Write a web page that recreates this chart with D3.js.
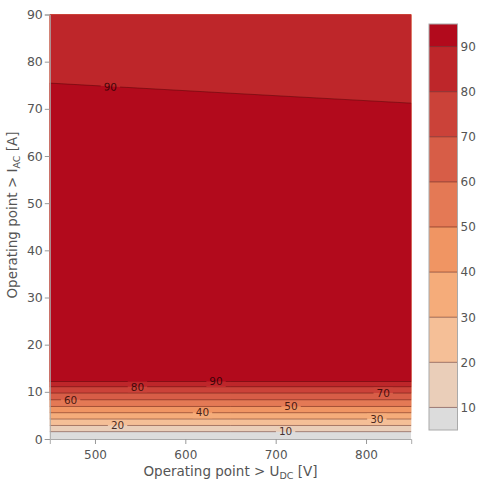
<!DOCTYPE html>
<html><head><meta charset="utf-8">
<script src="https://cdn.jsdelivr.net/npm/d3@7"></script>
<style>body{margin:0;background:#fff;} svg{display:block;font-family:"DejaVu Sans",Verdana,sans-serif;}</style>
</head><body><svg id="chart" width="488" height="483"></svg>
<script>
// ---- data ----
const U_DC = [450, 650, 850];
const I_AC = [0, 1, 2, 3, 4, 5, 6, 7, 8, 9, 10, 11, 12, 12.5, 15, 30, 45, 60, 90];
const efficiency = [
  [0, 0, 0],
  [5.8, 5.8, 5.8],
  [13.4, 13.4, 13.4],
  [21.0, 21.0, 21.0],
  [28.3, 28.3, 28.3],
  [35.7, 35.7, 35.7],
  [43.2, 43.2, 43.2],
  [50.8, 50.8, 50.8],
  [57.8, 57.8, 57.8],
  [64.8, 64.8, 64.8],
  [71.9, 71.9, 71.9],
  [79.3, 79.3, 79.3],
  [88.3, 88.3, 88.3],
  [92.8, 92.8, 92.8],
  [93.4, 93.4, 93.4],
  [93.2, 93.2, 93.2],
  [92.6, 92.6, 92.6],
  [91.7, 91.7, 91.7],
  [88.4, 87.87, 87.15]
];
const levels = [10, 20, 30, 40, 50, 60, 70, 80, 90];
const xTicks = [500, 600, 700, 800];
const yTicks = [0, 10, 20, 30, 40, 50, 60, 70, 80, 90];
const cbTicks = [10, 20, 30, 40, 50, 60, 70, 80, 90];
// label placement: [level, U, approx I]
const contourLabels = [[90,517,75],[90,634,12],[80,547,11],[70,819,10],[60,473,8],[50,717,7],[40,619,5.5],[30,812,4],[20,525,3],[10,711,1.5]];

// ---- colours (plotly "Reds") ----
const stops = [[0,'rgb(220,220,220)'],[0.2,'rgb(245,195,157)'],[0.4,'rgb(245,160,105)'],[1,'rgb(178,10,28)']];
const cscale = d3.scaleLinear().domain(stops.map(d=>d[0])).range(stops.map(d=>d[1])).interpolate(d3.interpolateRgb);
const bandColor = i => cscale(i / levels.length);

const svg = d3.select('#chart');
const m = {l:49.8, r:411.2, t:14.5, b:439};
const x = d3.scaleLinear().domain([450, 850]).range([m.l, m.r]);
const y = d3.scaleLinear().domain([0, 90]).range([m.b, m.t]);

const nx = U_DC.length, ny = I_AC.length;
const values = [];
for (let j = 0; j < ny; j++) for (let i = 0; i < nx; i++) values.push(efficiency[j][i]);
const contours = d3.contours().size([nx, ny]).thresholds(levels)(values);
const idxU = d3.scaleLinear().domain(d3.range(nx)).range(U_DC);
const idxI = d3.scaleLinear().domain(d3.range(ny)).range(I_AC);
const path = d3.geoPath(d3.geoTransform({
  point(px, py) { this.stream.point(x(idxU(px - 0.5)), y(idxI(py - 0.5))); }
}));

const defs = svg.append('defs');
defs.append('clipPath').attr('id','plotclip').append('rect')
  .attr('x', m.l).attr('y', m.t).attr('width', m.r - m.l).attr('height', m.b - m.t);

const plot = svg.append('g').attr('clip-path','url(#plotclip)');
plot.append('rect').attr('x', m.l).attr('y', m.t).attr('width', m.r - m.l).attr('height', m.b - m.t)
  .attr('fill', bandColor(0));
plot.selectAll('path.band').data(contours).join('path').attr('class','band')
  .attr('d', path).attr('fill', (d, k) => bandColor(k + 1));

// contour labels
function crossingI(level, U, hint) {
  const e = efficiency.map(row => d3.scaleLinear().domain(U_DC).range(row)(U));
  let best = null;
  for (let j = 0; j < ny - 1; j++) {
    if ((e[j] - level) * (e[j+1] - level) <= 0 && e[j] !== e[j+1]) {
      const I = I_AC[j] + (level - e[j]) / (e[j+1] - e[j]) * (I_AC[j+1] - I_AC[j]);
      if (best === null || Math.abs(I - hint) < Math.abs(best - hint)) best = I;
    }
  }
  return best;
}
const labG = svg.append('g');
const mask = defs.append('mask').attr('id','lblmask').attr('maskUnits','userSpaceOnUse')
  .attr('x',0).attr('y',0).attr('width',488).attr('height',483);
mask.append('rect').attr('x',0).attr('y',0).attr('width',488).attr('height',483).attr('fill','white');
contourLabels.forEach(([lv, U, hint]) => {
  const I = crossingI(lv, U, hint);
  const px = x(U), py = y(I);
  const a = Math.atan2(y(crossingI(lv, U + 5, I)) - y(crossingI(lv, U - 5, I)), x(U + 5) - x(U - 5)) * 180 / Math.PI;
  const t = labG.append('text').attr('transform', `translate(${px},${py}) rotate(${a})`)
    .attr('text-anchor','middle').attr('dy','0.36em').attr('font-size','10.5px')
    .attr('fill','rgba(25,0,0,0.8)').text(lv);
  const w = t.node().getComputedTextLength();
  mask.append('rect').attr('transform', `translate(${px},${py}) rotate(${a})`)
    .attr('x', -w/2 - 3).attr('y', -5.5).attr('width', w + 6).attr('height', 11).attr('fill','black');
});
const lines = svg.insert('g', () => labG.node()).attr('clip-path','url(#plotclip)')
  .append('g').attr('mask','url(#lblmask)');
lines.selectAll('path').data(contours).join('path').attr('d', path)
  .attr('fill','none').attr('stroke','rgba(60,0,0,0.4)').attr('stroke-width',1);

// axes
const axisColor = '#555';
const xa = svg.append('g').attr('transform', `translate(0,${m.b})`)
  .call(d3.axisBottom(x).tickValues(xTicks).tickSize(5).tickPadding(6).tickFormat(d3.format('d')));
const ya = svg.append('g').attr('transform', `translate(${m.l},0)`)
  .call(d3.axisLeft(y).tickValues(yTicks).tickSize(5).tickPadding(2).tickFormat(d3.format('d')));
[xa, ya].forEach(g => {
  g.selectAll('text').attr('font-size','12px').attr('fill', axisColor).attr('font-family','DejaVu Sans, sans-serif');
  g.selectAll('line').attr('stroke','#999');
  g.select('.domain').attr('stroke','#aaa');
});
ya.selectAll('text').attr('font-size','12.5px');

// axis titles
const xt = svg.append('text').attr('x', (m.l + m.r)/2).attr('y', 476).attr('text-anchor','middle')
  .attr('font-size','13.5px').attr('fill', axisColor);
xt.append('tspan').text('Operating point > U');
xt.append('tspan').attr('font-size','9.5px').attr('dy', 3).text('DC');
xt.append('tspan').attr('dy', -3).text(' [V]');
const yt = svg.append('text').attr('transform','translate(17,215) rotate(-90)').attr('text-anchor','middle')
  .attr('font-size','13.5px').attr('fill', axisColor);
yt.append('tspan').text('Operating point > I');
yt.append('tspan').attr('font-size','9.5px').attr('dy', 3).text('AC');
yt.append('tspan').attr('dy', -3).text(' [A]');

// colorbar
const cb = {x: 429, w: 28.5, top: 24, bot: 430};
const cy = d3.scaleLinear().domain([5, 95]).range([cb.bot, cb.top]);
const cbG = svg.append('g');
const edges = [5, ...levels, 95];
cbG.selectAll('rect.seg').data(d3.range(edges.length - 1)).join('rect').attr('class','seg')
  .attr('x', cb.x).attr('width', cb.w)
  .attr('y', i => cy(edges[i+1])).attr('height', i => cy(edges[i]) - cy(edges[i+1]))
  .attr('fill', i => bandColor(i));
cbG.selectAll('line.lv').data(levels).join('line').attr('class','lv')
  .attr('x1', cb.x).attr('x2', cb.x + cb.w).attr('y1', d => cy(d)).attr('y2', d => cy(d))
  .attr('stroke','rgba(60,0,0,0.45)').attr('stroke-width',1);
cbG.append('rect').attr('x', cb.x).attr('y', cb.top).attr('width', cb.w).attr('height', cb.bot - cb.top)
  .attr('fill','none').attr('stroke','#aaa').attr('stroke-width',1);
cbG.selectAll('text').data(cbTicks).join('text').attr('x', cb.x + cb.w + 3).attr('y', d => cy(d))
  .attr('dy','0.36em').attr('font-size','12px').attr('fill', axisColor).text(d => d);
</script></body></html>
